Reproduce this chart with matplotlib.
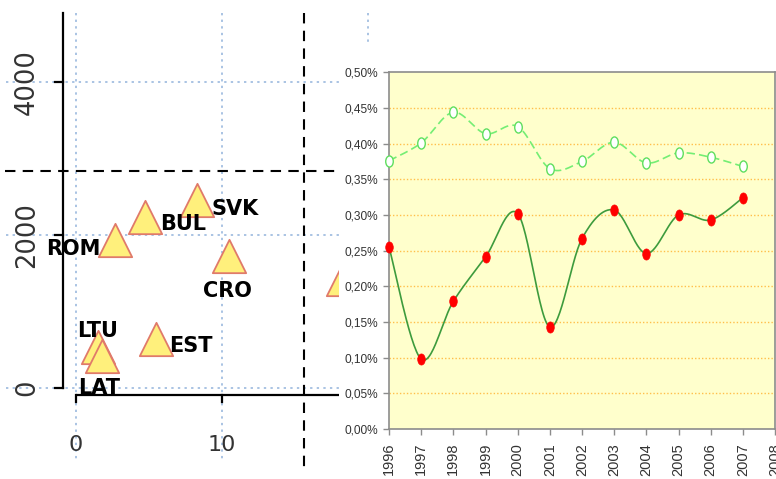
import numpy as np
import matplotlib
matplotlib.use("Agg")
import matplotlib.pyplot as plt
from matplotlib.path import Path
from matplotlib.transforms import Affine2D

# ---------------- data: left scatter panel ----------------
countries = ["ROM", "BUL", "SVK", "CRO", "EST", "LTU", "LAT", ""]
x_vals = [2.7, 4.7, 8.3, 10.5, 5.5, 1.5, 1.8, 18.3]
y_vals = [1940, 2235, 2455, 1720, 640, 530, 420, 1425]
ref_x = 15.6
ref_y = 2840
left_xticks = [0, 10]
left_yticks = [0, 2000, 4000]

# ---------------- data: right line chart ----------------
years = [1996, 1997, 1998, 1999, 2000, 2001, 2002, 2003, 2004, 2005, 2006, 2007]
series_dark = [0.255, 0.098, 0.179, 0.241, 0.302, 0.143, 0.267, 0.307, 0.246, 0.300, 0.293, 0.324]
series_light = [0.376, 0.401, 0.444, 0.414, 0.424, 0.365, 0.375, 0.402, 0.373, 0.387, 0.381, 0.368]
year_ticks = [1996, 1997, 1998, 1999, 2000, 2001, 2002, 2003, 2004, 2005, 2006, 2007, 2008]
pct_ticks = [0.00, 0.05, 0.10, 0.15, 0.20, 0.25, 0.30, 0.35, 0.40, 0.45, 0.50]

# label offsets (points) for the scatter annotations
label_offsets = [(-30, -6.5), (28, -5), (27, -6), (-1, -25), (25, -5), (0, 11.5), (-2, -23), (0, 0)]

W, H = 776, 479
fig = plt.figure(figsize=(W / 100, H / 100), dpi=100)
fig.patch.set_facecolor("white")

# ---------- left panel (covers whole figure, partly hidden by right panel) ----------
X0, SX = 76.0, 14.6        # pixel of x=0, pixels per unit
Y0, SY = 388.0, 153 / 2000  # pixel of y=0, pixels per unit


def lx(px):
    return (px - X0) / SX


def ly(py):
    return (Y0 - py) / SY


axl = fig.add_axes([0, 0, 1, 1])
axl.set_xlim(lx(0), lx(W))
axl.set_ylim(ly(H), ly(0))
axl.axis("off")

grid_kw = dict(color="#a9c3e3", lw=1.4, ls=(0, (1.2, 2.2)), zorder=1)
for v in left_yticks:
    axl.plot([lx(6), lx(W)], [v, v], **grid_kw)
for v in left_xticks + [20]:
    axl.plot([v, v], [ly(13), ly(462)], **grid_kw)

# axes lines
axl.plot([lx(63), lx(63)], [ly(13), 0], color="black", lw=1.6, zorder=2)
for v in left_yticks:
    axl.plot([lx(55), lx(63)], [v, v], color="black", lw=1.6, zorder=2)
axl.plot([lx(77), lx(W)], [ly(395), ly(395)], color="black", lw=1.6, zorder=2)
for v in left_xticks:
    axl.plot([v, v], [ly(395), ly(402)], color="black", lw=1.6, zorder=2)

# reference dashed lines
dash_kw = dict(color="black", lw=1.5, ls=(0, (5, 3.5)), zorder=2)
axl.plot([lx(5), lx(W)], [ref_y, ref_y], **dash_kw)
axl.plot([ref_x, ref_x], [ly(13), ly(467)], **dash_kw)

# tick labels
for v in left_yticks:
    axl.text(lx(27), v, f"{v}", rotation=90, ha="center", va="center",
             fontsize=18.5, color="#333333", family=["DejaVu Sans"])
for v in left_xticks:
    axl.text(v, ly(445), f"{v}", ha="center", va="center",
             fontsize=16, color="#333333", family=["DejaVu Sans"])

# triangles
axl.scatter(x_vals, y_vals, marker="^", s=24 ** 2, facecolor="#fff07c",
            edgecolor="#e07a6a", linewidths=1.3, zorder=3)
for name, x, y, off in zip(countries, x_vals, y_vals, label_offsets):
    if name:
        axl.annotate(name, (x, y), xytext=off, textcoords="offset points",
                     ha="center", va="center", fontsize=15, fontweight="bold",
                     color="black", zorder=4, family=["DejaVu Sans"])

# ---------- right panel ----------
bg = fig.add_axes([339 / W, 0, (W - 339) / W, (H - 45) / H])
bg.set_facecolor("white")
bg.set_xticks([])
bg.set_yticks([])
for s in bg.spines.values():
    s.set_visible(False)

L, R, T, B = 389, 775, 72.3, 429
ax = fig.add_axes([L / W, (H - B) / H, (R - L) / W, (B - T) / H])
ax.set_facecolor("#ffffcc")
ax.set_xlim(1996, 2008)
ax.set_ylim(0, 0.5)
for s in ax.spines.values():
    s.set_color("#8c8c8c")
    s.set_linewidth(1.2)

ax.set_yticks(pct_ticks)
ax.set_yticklabels([f"{v:.2f}%".replace(".", ",") for v in pct_ticks])
ax.set_xticks(year_ticks)
ax.set_xticklabels([str(y) for y in year_ticks], rotation=90)
ax.tick_params(axis="both", direction="out", length=4, width=1, color="#8c8c8c",
               labelcolor="#333333")
ax.tick_params(axis="y", labelsize=8.6)
ax.tick_params(axis="x", labelsize=10.5, pad=6)
for lab in ax.get_yticklabels() + ax.get_xticklabels():
    lab.set_fontfamily(["Liberation Sans", "DejaVu Sans"])
for v in pct_ticks[1:-1]:
    ax.axhline(v, color="#ffbf4a", lw=1.0, ls=(0, (1, 1.5)), zorder=1)


def smooth(xs, ys, n=30):
    xs = np.asarray(xs, float)
    ys = np.asarray(ys, float)
    P = np.column_stack([xs, ys])
    P = np.vstack([P[0], P, P[-1]])
    out = []
    for i in range(1, len(P) - 2):
        p0, p1, p2, p3 = P[i - 1], P[i], P[i + 1], P[i + 2]
        c1 = p1 + (p2 - p0) / 6
        c2 = p2 - (p3 - p1) / 6
        t = np.linspace(0, 1, n)[:, None]
        seg = ((1 - t) ** 3) * p1 + 3 * ((1 - t) ** 2) * t * c1 + 3 * (1 - t) * t ** 2 * c2 + t ** 3 * p2
        out.append(seg if i == 1 else seg[1:])
    out = np.vstack(out)
    return out[:, 0], out[:, 1]


ell = Path.unit_circle().transformed(Affine2D().scale(0.68, 1.0))

sx, sy = smooth(years, series_light)
ax.plot(sx, sy, color="#74ee74", lw=1.2, ls=(0, (5, 2.5)), zorder=3)
ax.plot(years, series_light, ls="none", marker=ell, ms=8, mfc="white",
        mec="#5fdf5f", mew=1.0, zorder=4, clip_on=False)

sx, sy = smooth(years, series_dark)
ax.plot(sx, sy, color="#3d9b3d", lw=1.2, zorder=3)
ax.plot(years, series_dark, ls="none", marker=ell, ms=8, mfc="#ff0000",
        mec="#ff0000", mew=0.5, zorder=4, clip_on=False)

fig.savefig("out.png", dpi=100, facecolor="white")
